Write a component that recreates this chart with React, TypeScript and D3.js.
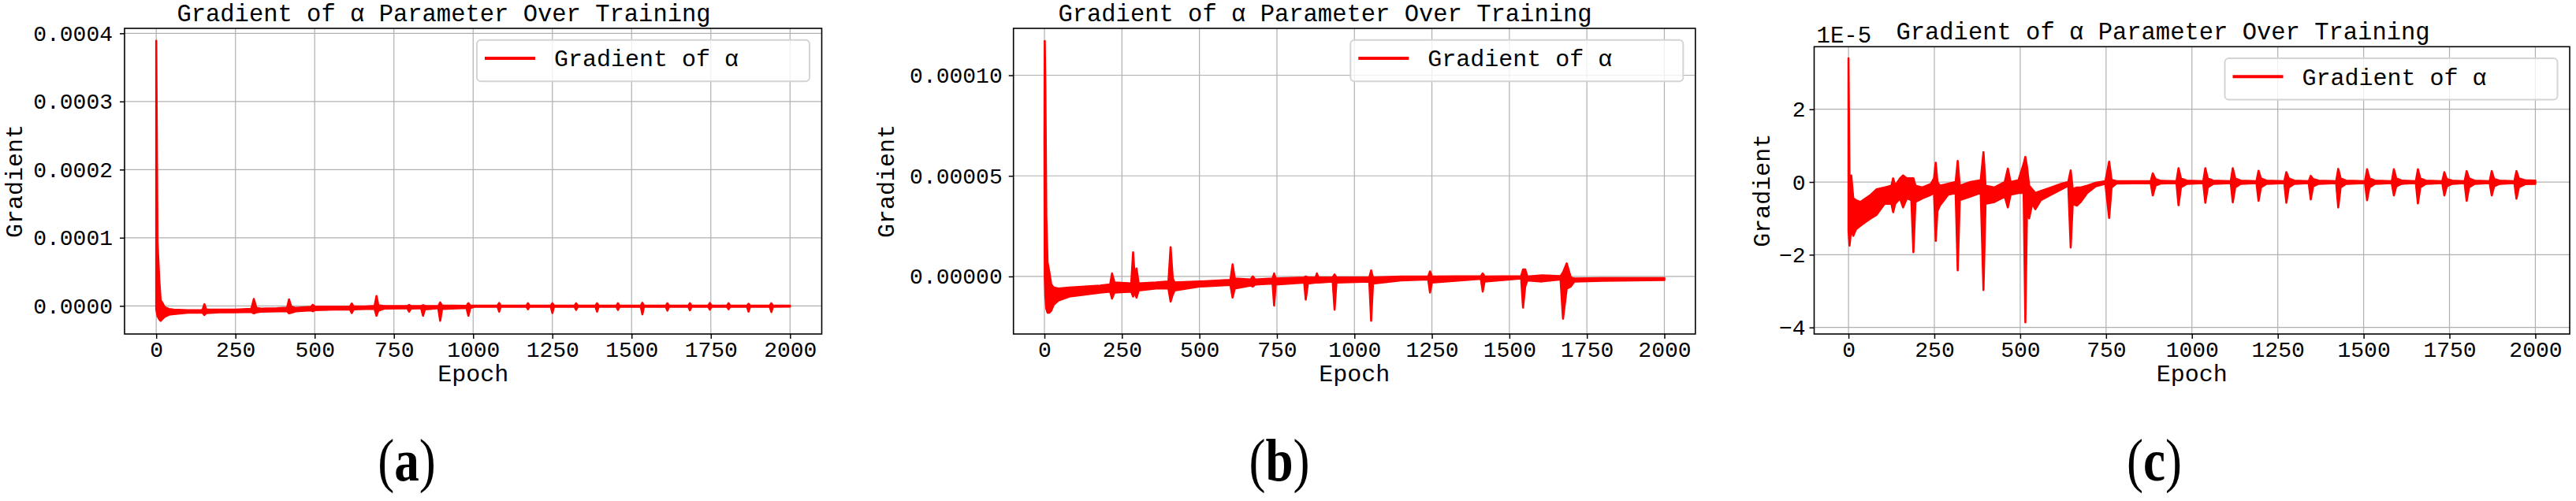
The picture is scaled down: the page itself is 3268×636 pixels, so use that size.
import React, { useEffect, useRef } from "react";
import * as d3 from "d3";

type Env = [number, number, number];

// gradient of alpha per epoch, values in units of 1e-5
// each row: [epoch, low, high] = envelope of the noisy trace around that epoch
const gradA: Env[] = [
  [0, -0.5, 38.9], [4, -1.5, 9.4], [10, -2.0, 3.5], [14, -2.2, 0.8], [20, -1.9, 0.4],
  [27, -1.6, -0.2], [40, -1.3, -0.45], [55, -1.2, -0.55], [100, -1.0, -0.65],
  [146, -1.0, -0.6], [152, -1.35, 0.25], [158, -1.05, -0.55], [200, -0.95, -0.55],
  [250, -0.95, -0.55], [300, -0.9, -0.45], [308, -1.1, 1.0], [316, -0.95, -0.3],
  [330, -0.85, -0.4], [380, -0.8, -0.35], [413, -0.8, -0.25], [419, -1.1, 0.95],
  [426, -1.0, -0.1], [440, -0.8, -0.3], [488, -0.65, -0.15], [494, -0.8, 0.15],
  [500, -0.62, -0.08], [560, -0.55, -0.12], [611, -0.5, -0.12], [617, -1.05, 0.35],
  [623, -0.5, -0.1], [660, -0.45, -0.08], [689, -0.45, 0.0], [695, -1.45, 1.45],
  [701, -0.7, 0.1], [720, -0.4, -0.03], [792, -0.35, -0.03], [798, -0.85, 0.15],
  [804, -0.4, -0.03], [836, -0.35, -0.03], [842, -1.45, 0.1], [848, -0.5, 0.0],
  [890, -0.35, -0.03], [896, -2.2, 0.5], [902, -0.45, 0.05], [979, -0.3, 0.0],
  [985, -1.45, 0.4], [991, -0.3, 0.03], [1005, -0.13, 0.03],
  [1077, -0.13, 0.03], [1082, -0.85, 0.42], [1087, -0.13, 0.03],
  [1168, -0.13, 0.03], [1173, -0.5, 0.38], [1178, -0.13, 0.03],
  [1245, -0.13, 0.03], [1250, -1.05, 0.38], [1255, -0.13, 0.03],
  [1320, -0.13, 0.03], [1325, -0.6, 0.38], [1330, -0.13, 0.03],
  [1386, -0.13, 0.03], [1391, -0.85, 0.38], [1396, -0.13, 0.03],
  [1452, -0.13, 0.03], [1457, -0.6, 0.38], [1462, -0.13, 0.03],
  [1529, -0.13, 0.03], [1534, -1.25, 0.45], [1539, -0.13, 0.03],
  [1608, -0.13, 0.03], [1613, -0.7, 0.38], [1618, -0.13, 0.03],
  [1679, -0.13, 0.03], [1684, -0.65, 0.4], [1689, -0.13, 0.03],
  [1742, -0.13, 0.03], [1747, -0.55, 0.42], [1752, -0.13, 0.03],
  [1801, -0.13, 0.03], [1806, -0.5, 0.4], [1811, -0.13, 0.03],
  [1864, -0.13, 0.03], [1869, -0.85, 0.32], [1874, -0.13, 0.03],
  [1936, -0.13, 0.03], [1941, -0.9, 0.38], [1946, -0.13, 0.03],
  [2000, -0.1, 0.02],
];

const gradB: Env[] = [
  [0, 6.8, 6.8], [1, 0.0, 11.7], [3, -1.0, 9.4], [6, -1.6, 3.0], [10, -1.8, 0.7],
  [16, -1.8, 0.2], [22, -1.7, -0.4], [30, -1.4, -0.55], [45, -1.2, -0.6],
  [80, -1.0, -0.55], [130, -0.9, -0.5], [180, -0.8, -0.45], [212, -0.75, -0.4],
  [218, -1.1, 0.15], [226, -0.8, -0.3], [280, -0.75, -0.35], [286, -1.0, 1.2],
  [292, -0.8, -0.2], [297, -1.05, 0.4], [304, -0.7, -0.35], [360, -0.6, -0.3],
  [400, -0.6, -0.25], [407, -1.25, 1.45], [414, -0.9, -0.1], [420, -0.7, -0.3],
  [500, -0.5, -0.25], [600, -0.42, -0.17], [607, -1.05, 0.6], [614, -0.6, -0.1],
  [665, -0.45, -0.15], [672, -0.5, 0.0], [680, -0.4, -0.15], [736, -0.35, -0.1],
  [741, -1.45, 0.15], [746, -0.4, -0.1], [838, -0.3, -0.05], [843, -1.15, 0.0],
  [850, -0.35, -0.05], [875, -0.3, -0.05], [879, -0.3, 0.15], [884, -0.3, -0.05],
  [930, -0.25, -0.05], [936, -1.65, 0.1], [942, -0.3, -0.05], [1048, -0.25, -0.05],
  [1054, -2.2, 0.3], [1060, -0.35, -0.05], [1150, -0.2, 0.0], [1238, -0.15, 0.0],
  [1244, -0.8, 0.25], [1250, -0.3, 0.0], [1408, -0.12, 0.02], [1414, -0.75, 0.15],
  [1420, -0.25, 0.0], [1538, -0.1, 0.02], [1544, -1.55, 0.35], [1551, -0.5, 0.35],
  [1558, -0.2, 0.0], [1605, -0.25, 0.05], [1665, -0.15, 0.02], [1673, -2.1, 0.2],
  [1685, -0.6, 0.65], [1698, -0.5, -0.05], [1710, -0.25, -0.1], [1800, -0.22, -0.08],
  [2000, -0.18, -0.08],
];

const gradC: Env[] = [
  [0, -1.35, 3.4], [3, -1.75, 0.0], [8, -1.3, 0.18], [14, -1.48, -0.45], [22, -1.3, -0.5],
  [35, -1.2, -0.55], [50, -1.1, -0.45], [65, -1.0, -0.35], [82, -0.9, -0.2],
  [105, -0.6, -0.15], [125, -0.6, -0.1], [130, -0.83, 0.1], [136, -0.6, -0.1],
  [150, -0.45, 0.1], [159, -0.7, 0.18], [170, -0.45, 0.1], [183, -0.5, 0.1],
  [189, -1.93, 0.1], [195, -0.55, -0.1], [215, -0.45, -0.15], [240, -0.35, -0.05],
  [249, -0.3, 0.1], [254, -1.62, 0.53], [259, -0.8, 0.0], [266, -0.65, -0.1],
  [290, -0.35, -0.05], [312, -0.3, 0.0], [318, -2.43, 0.58], [324, -0.5, -0.1],
  [355, -0.4, 0.0], [385, -0.3, 0.05], [393, -2.97, 0.82], [399, -0.6, -0.1],
  [425, -0.55, -0.15], [455, -0.4, 0.0], [464, -0.7, 0.37], [472, -0.35, 0.0],
  [495, -0.3, 0.05], [510, -0.3, 0.5], [515, -3.86, 0.69], [520, -0.6, 0.4],
  [526, -1.0, -0.1], [535, -0.6, -0.2], [544, -0.75, -0.3], [560, -0.5, -0.25],
  [590, -0.35, -0.15], [620, -0.2, -0.05], [640, -0.1, 0.0], [647, -1.8, 0.32],
  [653, -0.6, -0.2], [665, -0.65, -0.15], [676, -0.55, -0.15], [695, -0.3, -0.1],
  [720, -0.12, -0.02], [748, -0.05, 0.02], [759, -0.99, 0.56], [766, -0.15, 0.06],
  [780, -0.04, 0.02], [880, -0.03, 0.02],
  [886, -0.37, 0.24], [894, -0.1, 0.08], [910, -0.04, 0.03],
  [955, -0.03, 0.02], [961, -0.64, 0.38], [968, -0.15, 0.1], [985, -0.05, 0.04],
  [1033, -0.03, 0.02], [1039, -0.57, 0.38], [1046, -0.15, 0.1], [1062, -0.05, 0.04],
  [1113, -0.03, 0.02], [1119, -0.56, 0.38], [1126, -0.15, 0.1], [1142, -0.05, 0.04],
  [1188, -0.03, 0.02], [1194, -0.52, 0.31], [1201, -0.15, 0.1], [1217, -0.05, 0.04],
  [1269, -0.03, 0.02], [1275, -0.57, 0.27], [1282, -0.15, 0.1], [1298, -0.05, 0.04],
  [1340, -0.03, 0.02], [1346, -0.48, 0.17], [1353, -0.12, 0.08], [1369, -0.05, 0.04],
  [1420, -0.03, 0.02], [1426, -0.7, 0.36], [1433, -0.15, 0.1], [1449, -0.05, 0.04],
  [1504, -0.03, 0.02], [1510, -0.5, 0.35], [1517, -0.15, 0.1], [1533, -0.05, 0.04],
  [1582, -0.03, 0.02], [1588, -0.37, 0.35], [1595, -0.12, 0.1], [1611, -0.05, 0.04],
  [1652, -0.03, 0.02], [1658, -0.59, 0.35], [1665, -0.15, 0.1], [1681, -0.05, 0.04],
  [1729, -0.03, 0.02], [1735, -0.37, 0.27], [1742, -0.12, 0.08], [1758, -0.05, 0.04],
  [1794, -0.03, 0.02], [1800, -0.52, 0.3], [1807, -0.15, 0.1], [1823, -0.05, 0.04],
  [1867, -0.03, 0.02], [1873, -0.37, 0.3], [1880, -0.12, 0.08], [1896, -0.05, 0.04],
  [1939, -0.03, 0.02], [1945, -0.46, 0.3], [1952, -0.15, 0.1], [1970, -0.06, 0.05],
  [2000, -0.05, 0.04],
];

const epochTicks = [0, 250, 500, 750, 1000, 1250, 1500, 1750, 2000];
const gradTicksA = [0, 10, 20, 30, 40];
const gradTicksB = [0, 5, 10];
const gradTicksC = [-4, -2, 0, 2];
const panelLetters = ["a", "b", "c"];

const titleText = "Gradient of α Parameter Over Training";
const legendLabel = "Gradient of α";
const xLabel = "Epoch";
const yLabel = "Gradient";

const mono = "'Liberation Mono', 'DejaVu Sans Mono', monospace";
const serif = "'Liberation Serif', 'DejaVu Serif', serif";
const red = "#ff0000";

const panels = [
  {
    data: gradA, ticks: gradTicksA, yDomain: [-4.13, 40.73],
    fmt: (v: number) => (v * 1e-5).toFixed(4),
    left: 158, right: 1042.5, top: 36, bottom: 424,
    titleX: 563, titleY: 27, yLabelX: 28, tickPad: 9, capX: 516, offset: "",
  },
  {
    data: gradB, ticks: gradTicksB, yDomain: [-2.86, 12.33],
    fmt: (v: number) => (v * 1e-5).toFixed(5),
    left: 1285.7, right: 2150.8, top: 36, bottom: 424,
    titleX: 1681, titleY: 27, yLabelX: 1134, tickPad: 8, capX: 1623, offset: "",
  },
  {
    data: gradC, ticks: gradTicksC, yDomain: [-4.18, 3.72],
    fmt: (v: number) => d3.format("d")(v),
    left: 2301.5, right: 3260, top: 59.3, bottom: 424,
    titleX: 2744, titleY: 50, yLabelX: 2245, tickPad: 5, capX: 2733, offset: "1E-5",
  },
];

export default function App() {
  const ref = useRef<SVGSVGElement>(null);

  useEffect(() => {
    const svg = d3.select(ref.current);
    svg.selectAll("*").remove();

    panels.forEach((p, i) => {
      const g = svg.append("g");
      const x = d3.scaleLinear().domain([-100, 2100]).range([p.left, p.right]);
      const y = d3.scaleLinear().domain(p.yDomain).range([p.bottom, p.top]);

      // grid
      g.selectAll(".vg").data(epochTicks).join("line")
        .attr("x1", (d) => x(d)).attr("x2", (d) => x(d))
        .attr("y1", p.top).attr("y2", p.bottom)
        .attr("stroke", "#b0b0b0").attr("stroke-width", 1.2);
      g.selectAll(".hg").data(p.ticks).join("line")
        .attr("x1", p.left).attr("x2", p.right)
        .attr("y1", (d) => y(d)).attr("y2", (d) => y(d))
        .attr("stroke", "#b0b0b0").attr("stroke-width", 1.2);

      // noisy gradient trace drawn as its min/max envelope
      const band = d3.area<Env>()
        .x((d) => x(d[0]))
        .y0((d) => y(d[1]))
        .y1((d) => y(d[2]));
      g.append("path").datum(p.data).attr("d", band)
        .attr("fill", red).attr("stroke", red)
        .attr("stroke-width", 2.6).attr("stroke-linejoin", "round");

      // axes
      const xAxis = g.append("g").attr("transform", `translate(0,${p.bottom})`)
        .call(d3.axisBottom(x).tickValues(epochTicks).tickSize(6).tickPadding(3).tickFormat(d3.format("d") as any));
      const yAxis = g.append("g").attr("transform", `translate(${p.left},0)`)
        .call(d3.axisLeft(y).tickValues(p.ticks).tickSize(6).tickPadding(p.tickPad).tickFormat(p.fmt as any));
      [xAxis, yAxis].forEach((a) => {
        a.select(".domain").remove();
        a.selectAll("line").attr("stroke", "#000").attr("stroke-width", 1.5);
        a.selectAll("text").attr("font-family", mono).attr("font-size", 28).attr("fill", "#000");
      });

      g.append("rect")
        .attr("x", p.left).attr("y", p.top)
        .attr("width", p.right - p.left).attr("height", p.bottom - p.top)
        .attr("fill", "none").attr("stroke", "#000").attr("stroke-width", 1.6);

      // titles
      g.append("text").attr("x", p.titleX).attr("y", p.titleY)
        .attr("text-anchor", "middle").attr("font-family", mono).attr("font-size", 30.5)
        .text(titleText);
      if (p.offset) {
        g.append("text").attr("x", p.left + 3).attr("y", 54)
          .attr("font-family", mono).attr("font-size", 29).text(p.offset);
      }
      g.append("text").attr("x", (p.left + p.right) / 2).attr("y", 484)
        .attr("text-anchor", "middle").attr("font-family", mono).attr("font-size", 30)
        .text(xLabel);
      g.append("text")
        .attr("transform", `translate(${p.yLabelX},${(p.top + p.bottom) / 2}) rotate(-90)`)
        .attr("text-anchor", "middle").attr("font-family", mono).attr("font-size", 30)
        .text(yLabel);

      // legend
      const lx = p.right - 15.5 - 422;
      const ly = p.top + 14.7;
      g.append("rect").attr("x", lx).attr("y", ly).attr("width", 422).attr("height", 52.6)
        .attr("rx", 5).attr("fill", "#fff").attr("fill-opacity", 0.8)
        .attr("stroke", "#d4d4d4").attr("stroke-width", 2);
      g.append("line").attr("x1", lx + 10).attr("x2", lx + 74)
        .attr("y1", ly + 23.3).attr("y2", ly + 23.3)
        .attr("stroke", red).attr("stroke-width", 4);
      g.append("text").attr("x", lx + 98).attr("y", ly + 33.6)
        .attr("font-family", mono).attr("font-size", 30).text(legendLabel);

      // sub-caption, narrowed horizontally like the source figure
      const cap = g.append("text")
        .attr("transform", `translate(${p.capX},610) scale(0.82,1)`)
        .attr("text-anchor", "middle").attr("font-family", serif).attr("font-size", 77);
      cap.append("tspan").text("(");
      cap.append("tspan").attr("font-weight", "bold").text(panelLetters[i]);
      cap.append("tspan").text(")");
    });
  }, []);

  return (
    <div>
      <svg
        ref={ref}
        width={3268}
        height={636}
        style={{ position: "absolute", left: 0, top: 0, background: "#fff" }}
      ></svg>
    </div>
  );
}
